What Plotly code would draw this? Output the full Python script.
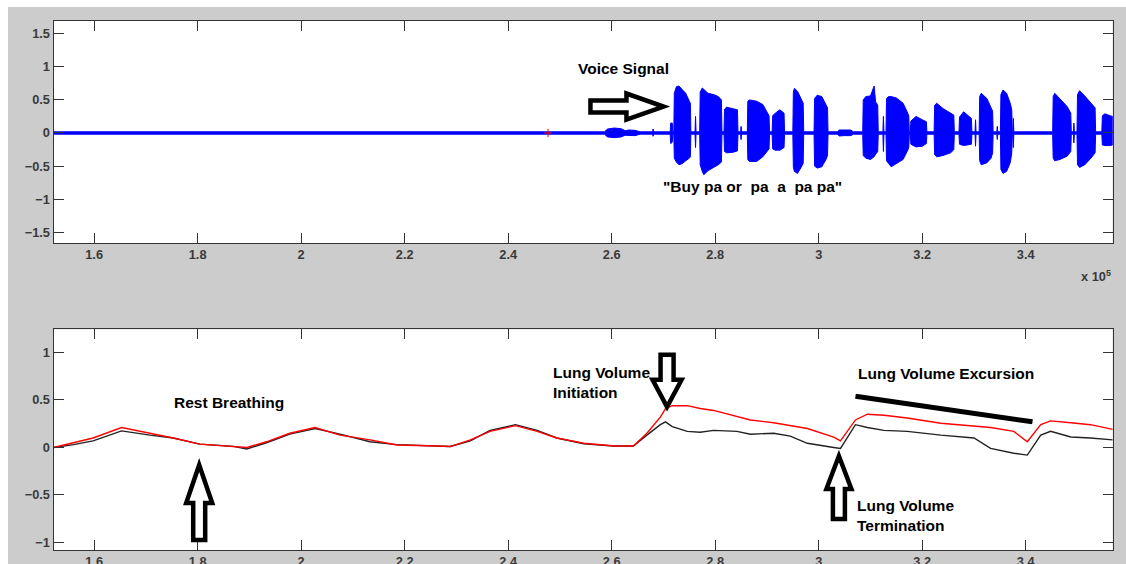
import plotly.graph_objects as go

# ---- data (x in units of 1e5 samples) ----
# voice signal envelope (top panel), one line per burst
voice_x = [
    1.5215, 2.586, 2.592, 2.605, 2.618, 2.626, 2.633, 2.645, 2.655, 2.679, 2.680, 2.681,
    2.713, 2.714, 2.717, 2.718, 2.720, 2.721, 2.725, 2.730, 2.737, 2.743, 2.750, 2.752, 2.753,
    2.761, 2.762, 2.763, 2.770, 2.771, 2.775, 2.778, 2.786, 2.797, 2.806, 2.812, 2.813,
    2.817, 2.818, 2.822, 2.835, 2.843, 2.844, 2.849, 2.850, 2.851,
    2.862, 2.863, 2.866, 2.880, 2.892, 2.900, 2.904, 2.905,
    2.910, 2.911, 2.916, 2.925, 2.933, 2.934,
    2.950, 2.951, 2.953, 2.959, 2.966, 2.970, 2.971,
    2.991, 2.992, 2.997, 3.006, 3.014, 3.017, 3.018,
    3.036, 3.040, 3.050, 3.062, 3.067,
    3.085, 3.086, 3.091, 3.100, 3.107, 3.110, 3.114, 3.115, 3.124, 3.125, 3.126,
    3.130, 3.131, 3.135, 3.140, 3.150, 3.163, 3.172, 3.174, 3.175,
    3.177, 3.178, 3.188, 3.200, 3.208, 3.209,
    3.223, 3.224, 3.228, 3.240, 3.255, 3.261, 3.262,
    3.271, 3.272, 3.280, 3.295, 3.296, 3.302, 3.303, 3.304,
    3.310, 3.311, 3.314, 3.325, 3.333, 3.336, 3.337, 3.344, 3.345, 3.346,
    3.351, 3.352, 3.356, 3.363, 3.370, 3.373, 3.374, 3.375, 3.376, 3.377,
    3.452, 3.453, 3.456, 3.466, 3.480, 3.487, 3.488, 3.492, 3.493, 3.494,
    3.499, 3.500, 3.504, 3.514, 3.526, 3.534, 3.535,
    3.547, 3.548, 3.553, 3.563, 3.568,
]
voice_upper = [
    .018, .018, .06, .075, .065, .035, .045, .04, .018, .018, .06, .018,
    .018, .15, .15, .018, .018, .60, .70, .71, .65, .60, .48, .45, .018,
    .018, .25, .018, .018, .62, .68, .66, .60, .58, .55, .50, .018,
    .018, .36, .39, .37, .35, .018, .018, .10, .018,
    .018, .48, .50, .48, .43, .30, .26, .018,
    .018, .26, .30, .35, .30, .018,
    .018, .62, .675, .63, .50, .45, .018,
    .018, .52, .57, .55, .42, .38, .018,
    .018, .045, .04, .045, .018,
    .018, .50, .55, .56, .71, .47, .42, .018, .018, .25, .018,
    .018, .52, .55, .55, .53, .45, .30, .26, .018,
    .018, .18, .25, .20, .17, .018,
    .018, .42, .45, .37, .30, .27, .018,
    .018, .24, .32, .22, .018, .018, .20, .018,
    .018, .55, .60, .52, .37, .33, .018, .018, .10, .018,
    .018, .58, .65, .60, .45, .35, .018, .018, .22, .018,
    .018, .55, .60, .52, .40, .30, .018, .018, .15, .018,
    .018, .58, .64, .56, .45, .38, .018,
    .018, .26, .29, .26, .25,
]
voice_lower = [
    -.018, -.018, -.06, -.07, -.06, -.035, -.04, -.04, -.018, -.018, -.05, -.018,
    -.018, -.16, -.14, -.018, -.018, -.38, -.44, -.48, -.46, -.42, -.38, -.36, -.018,
    -.018, -.22, -.018, -.018, -.48, -.58, -.63, -.57, -.52, -.48, -.44, -.018,
    -.018, -.28, -.30, -.29, -.27, -.018, -.018, -.10, -.018,
    -.018, -.40, -.43, -.43, -.36, -.28, -.24, -.018,
    -.018, -.24, -.26, -.26, -.22, -.018,
    -.018, -.52, -.58, -.61, -.52, -.46, -.018,
    -.018, -.50, -.53, -.51, -.40, -.34, -.018,
    -.018, -.045, -.04, -.04, -.018,
    -.018, -.34, -.38, -.40, -.36, -.32, -.28, -.018, -.018, -.28, -.018,
    -.018, -.42, -.46, -.51, -.46, -.40, -.26, -.22, -.018,
    -.018, -.17, -.21, -.20, -.16, -.018,
    -.018, -.33, -.36, -.34, -.30, -.25, -.018,
    -.018, -.17, -.19, -.17, -.018, -.018, -.20, -.018,
    -.018, -.42, -.48, -.45, -.38, -.30, -.018, -.018, -.10, -.018,
    -.018, -.55, -.61, -.58, -.45, -.30, -.018, -.018, -.22, -.018,
    -.018, -.38, -.42, -.40, -.35, -.28, -.018, -.018, -.15, -.018,
    -.018, -.48, -.52, -.48, -.38, -.30, -.018,
    -.018, -.18, -.19, -.19, -.18,
]

marker_x = [2.477]
marker_y = [0.0]

# lung volume traces (bottom panel)
lung_x = [1.5215, 1.560, 1.598, 1.653, 1.708, 1.753, 1.804, 1.869, 1.895, 1.933,
          1.978, 2.027, 2.075, 2.133, 2.185, 2.262, 2.288, 2.327, 2.365, 2.414,
          2.456, 2.494, 2.546, 2.604, 2.642, 2.668, 2.694, 2.704, 2.717, 2.746,
          2.771, 2.797, 2.842, 2.868, 2.913, 2.945, 2.978, 3.029, 3.042, 3.071,
          3.094, 3.126, 3.171, 3.236, 3.300, 3.332, 3.377, 3.403, 3.429, 3.448,
          3.487, 3.525, 3.568]
lung_red = [0.00, 0.05, 0.10, 0.21, 0.15, 0.10, 0.035, 0.015, 0.00, 0.06,
            0.15, 0.21, 0.13, 0.08, 0.026, 0.016, 0.01, 0.08, 0.17, 0.23,
            0.17, 0.10, 0.044, 0.016, 0.016, 0.15, 0.32, 0.41, 0.44, 0.44,
            0.41, 0.39, 0.33, 0.29, 0.26, 0.23, 0.20, 0.11, 0.07, 0.29,
            0.35, 0.34, 0.31, 0.255, 0.226, 0.21, 0.17, 0.06, 0.24, 0.28,
            0.26, 0.24, 0.19]
lung_black = [0.00, 0.03, 0.07, 0.175, 0.13, 0.10, 0.035, 0.012, -0.015, 0.05,
              0.14, 0.20, 0.14, 0.06, 0.03, 0.02, 0.01, 0.07, 0.18, 0.24,
              0.18, 0.10, 0.04, 0.016, 0.016, 0.13, 0.24, 0.27, 0.22, 0.17,
              0.16, 0.18, 0.17, 0.14, 0.15, 0.12, 0.044, 0.00, -0.01, 0.24,
              0.21, 0.18, 0.17, 0.13, 0.10, -0.01, -0.06, -0.08, 0.13, 0.17,
              0.11, 0.10, 0.08]

x_ticks = [1.6, 1.8, 2.0, 2.2, 2.4, 2.6, 2.8, 3.0, 3.2, 3.4]
top_y_ticks = [-1.5, -1, -0.5, 0, 0.5, 1, 1.5]
bottom_y_ticks = [-1, -0.5, 0, 0.5, 1]

# ---- layout geometry ----
W, H = 1126, 564
X_RANGE = [1.5215, 3.568]
TOP_Y_RANGE = [-1.662, 1.692]
BOT_Y_RANGE = [-1.079, 1.244]
X_DOMAIN = [53.5 / W, 1112.7 / W]
TOP_DOMAIN = [1 - 243 / H, 1 - 21 / H]
BOT_DOMAIN = [1 - 550 / H, 1 - 329.3 / H]

AXIS_COLOR = "#333333"
TEXT_FONT = dict(family="Liberation Sans, Arial", size=15.5, color="black")
TICK_FONT = dict(family="Liberation Sans, Arial", size=12.8, color="#3a3a3a", weight="bold")


def px_scale(domain, rng, size):
    return size * (domain[1] - domain[0]) / (rng[1] - rng[0])


SX = px_scale(X_DOMAIN, X_RANGE, W)
SY_TOP = px_scale(TOP_DOMAIN, TOP_Y_RANGE, H)
SY_BOT = px_scale(BOT_DOMAIN, BOT_Y_RANGE, H)


def block_arrow(tip_x, tip_y, direction, length, head_len, head_w, shaft_w, sy, xref, yref):
    # hollow block arrow, sizes in pixels, tip in data coords
    dirs = {"right": (1, 0), "up": (0, -1), "down": (0, 1)}
    dx, dy = dirs[direction]
    bx, by = -dx, -dy
    pxv, pyv = -dy, dx
    local = [(0, 0), (head_len, head_w / 2), (head_len, shaft_w / 2), (length, shaft_w / 2),
             (length, -shaft_w / 2), (head_len, -shaft_w / 2), (head_len, -head_w / 2)]
    pts = []
    for along, across in local:
        ox = along * bx + across * pxv
        oy = along * by + across * pyv
        pts.append((tip_x + ox / SX, tip_y - oy / sy))
    path = "M " + " L ".join(f"{x:.5f},{y:.5f}" for x, y in pts) + " Z"
    return dict(type="path", path=path, xref=xref, yref=yref,
                line=dict(color="black", width=4.5), fillcolor="white", layer="above")


fig = go.Figure()

fig.add_trace(go.Scatter(
    x=voice_x + voice_x[::-1],
    y=voice_upper + voice_lower[::-1],
    mode="lines", fill="toself", fillcolor="#0000FF",
    line=dict(color="#0000FF", width=1),
    xaxis="x", yaxis="y", showlegend=False, hoverinfo="skip",
))
fig.add_trace(go.Scatter(
    x=marker_x, y=marker_y, mode="markers",
    marker=dict(symbol="cross-thin", size=6, line=dict(color="red", width=1)),
    xaxis="x", yaxis="y", showlegend=False,
))
fig.add_trace(go.Scatter(
    x=lung_x, y=lung_black, mode="lines",
    line=dict(color="#222222", width=1.4),
    xaxis="x2", yaxis="y2", showlegend=False,
))
fig.add_trace(go.Scatter(
    x=lung_x, y=lung_red, mode="lines",
    line=dict(color="#FF0000", width=1.4),
    xaxis="x2", yaxis="y2", showlegend=False,
))

axis_common = dict(
    showline=True, linecolor=AXIS_COLOR, linewidth=1, mirror="ticks",
    ticks="inside", ticklen=10, tickcolor=AXIS_COLOR, tickwidth=1,
    showgrid=False, zeroline=False, tickfont=TICK_FONT,
)

fig.update_layout(
    width=W, height=H,
    margin=dict(l=0, r=0, t=0, b=0, autoexpand=False),
    paper_bgcolor="#CCCCCC", plot_bgcolor="white",
    xaxis=dict(domain=X_DOMAIN, range=X_RANGE, tickvals=x_ticks, anchor="y", **axis_common),
    yaxis=dict(domain=TOP_DOMAIN, range=TOP_Y_RANGE, tickvals=top_y_ticks, anchor="x", **axis_common),
    xaxis2=dict(domain=X_DOMAIN, range=X_RANGE, tickvals=x_ticks, anchor="y2", **axis_common),
    yaxis2=dict(domain=BOT_DOMAIN, range=BOT_Y_RANGE, tickvals=bottom_y_ticks, anchor="x2", **axis_common),
)

shapes = [
    # white border strips of the screenshot
    dict(type="rect", xref="paper", yref="paper", x0=0, x1=8 / W, y0=0, y1=1,
         fillcolor="white", line=dict(width=0), layer="below"),
    dict(type="rect", xref="paper", yref="paper", x0=0, x1=1, y0=1 - 7 / H, y1=1,
         fillcolor="white", line=dict(width=0), layer="below"),
    # lung volume excursion bar
    dict(type="line", xref="x2", yref="y2", x0=3.071, y0=0.54, x1=3.413, y1=0.27,
         line=dict(color="black", width=5)),
    block_arrow(2.700, 0.40, "right", 73, 37, 26, 12, SY_TOP, "x", "y"),
    block_arrow(1.803, -0.184, "up", 75, 38, 26, 12, SY_BOT, "x2", "y2"),
    block_arrow(2.707, 0.428, "down", 52, 27, 29, 13, SY_BOT, "x2", "y2"),
    block_arrow(3.039, -0.09, "up", 63, 33, 25, 12, SY_BOT, "x2", "y2"),
]
fig.update_layout(shapes=shapes)

annotations = [
    dict(xref="x", yref="y", x=2.533, y=0.97, text="<b>Voice Signal</b>"),
    dict(xref="x", yref="y", x=2.697, y=-0.81,
         text="<b>\"Buy pa or\u00a0 pa\u00a0 a\u00a0 pa pa\"</b>"),
    dict(xref="x2", yref="y2", x=1.7526, y=0.472, text="<b>Rest Breathing</b>"),
    dict(xref="x2", yref="y2", x=2.4845, y=0.687, text="<b>Lung Volume<br>Initiation</b>"),
    dict(xref="x2", yref="y2", x=3.0745, y=0.781, text="<b>Lung Volume Excursion</b>"),
    dict(xref="x2", yref="y2", x=3.0727, y=-0.711, text="<b>Lung Volume<br>Termination</b>"),
]
for a in annotations:
    a.update(xanchor="left", yanchor="middle", align="left", showarrow=False,
             font=TEXT_FONT, borderpad=0)
annotations.append(dict(
    xref="paper", yref="paper", x=1112.7 / W, y=1 - 276 / H,
    xanchor="right", yanchor="middle", showarrow=False,
    text="x 10<sup>5</sup>", font=TICK_FONT,
))
fig.update_layout(annotations=annotations)

fig.write_html("out.html", config={"displayModeBar": False},
               post_script="document.body.style.margin='0';document.body.style.overflow='hidden';")
